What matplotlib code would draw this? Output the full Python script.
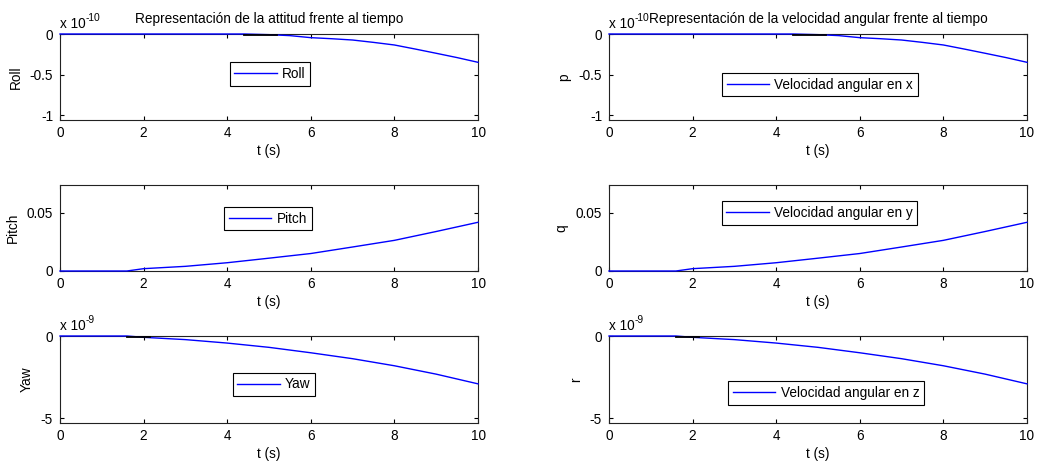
import matplotlib
matplotlib.use("Agg")
import matplotlib.pyplot as plt
from matplotlib.ticker import FuncFormatter

plt.rcParams['font.family'] = ['Liberation Sans', 'DejaVu Sans']
FS = 9.8
plt.rcParams['font.size'] = FS
plt.rcParams['axes.unicode_minus'] = False

# ---- data ----
t_roll = [0, 1, 2, 3, 4, 4.4, 5, 5.5, 6, 6.5, 7, 7.5, 8, 8.5, 9, 9.5, 10]
roll = [0, 0, 0, 0, 0, 0, -0.008, -0.02, -0.045, -0.058, -0.074, -0.103,
        -0.135, -0.185, -0.237, -0.29, -0.348]          # x 1e-10
t_pitch = [0, 1, 1.6, 2, 3, 4, 5, 6, 7, 8, 9, 10]
pitch = [0, 0, 0, 0.002, 0.004, 0.0071, 0.011, 0.015, 0.0206, 0.0263,
         0.0339, 0.0418]
t_yaw = [0, 1, 1.6, 2, 3, 4, 5, 6, 7, 8, 9, 10]
yaw = [0, 0, 0, -0.08, -0.22, -0.43, -0.69, -1.02, -1.38, -1.81, -2.32,
       -2.91]                                             # x 1e-9

# small black segments visible near zero
seg_roll_t = [4.4, 5.2]
seg_roll_v = [-0.008, -0.008]
seg_yaw_t = [1.6, 2.15]
seg_yaw_v = [-0.04, -0.04]

xticks = [0, 2, 4, 6, 8, 10]

W, H = 1039, 461
fig = plt.figure(figsize=(W / 100, H / 100), dpi=100)


def make_ax(left, right, top, bottom):
    ax = fig.add_axes([left / W, 1 - bottom / H, (right - left) / W, (bottom - top) / H])
    ax.tick_params(direction='in', top=True, right=True, length=3, width=0.8,
                   colors='black', labelsize=FS)
    ax.tick_params(axis='x', pad=4.5)
    ax.tick_params(axis='y', pad=5)
    for s in ax.spines.values():
        s.set_linewidth(0.8)
        s.set_color('#222222')
    ax.set_xlim(0, 10)
    ax.set_xticks(xticks)
    ax.set_xlabel('t (s)', labelpad=3)
    return ax


fmt = FuncFormatter(lambda v, p: ('%g' % v) if abs(v) > 1e-12 else '0')


def offset_label(ax, exp):
    t1 = ax.text(0, 1.035, 'x 10', transform=ax.transAxes, ha='left',
                 va='bottom', fontsize=FS)
    ax.annotate(exp, xy=(1, 0.95), xycoords=t1, ha='left', va='center',
                fontsize=FS * 0.75)


cols = [(60, 478), (609, 1027)]
rows = [(34, 120), (185, 271), (336, 422.5)]
ylabels = [['Roll', 'Pitch', 'Yaw'], ['p', 'q', 'r']]
leg = [['Roll', 'Pitch', 'Yaw'],
       ['Velocidad angular en x', 'Velocidad angular en y', 'Velocidad angular en z']]
leg_centers = [[(270, 74), (268, 218.5), (274, 384.5)],
               [(820, 84.5), (819.5, 213), (826, 393)]]
titles = ['Representación de la attitud frente al tiempo',
          'Representación de la velocidad angular frente al tiempo']

line_kw = dict(color='blue', lw=1.0, zorder=3, clip_on=False)

for c, (l, r) in enumerate(cols):
    # Row 1
    ax = make_ax(l, r, *rows[0])
    ax.plot(t_roll, roll, label=leg[c][0], **line_kw)
    ax.plot(seg_roll_t, seg_roll_v, color='black', lw=1.3, zorder=3.5)
    ax.set_ylim(-1.057, 0)
    ax.set_yticks([-1, -0.5, 0])
    ax.yaxis.set_major_formatter(fmt)
    ax.set_ylabel(ylabels[c][0], labelpad=5)
    offset_label(ax, '-10')
    ax.set_title(titles[c], fontsize=FS, pad=8)
    axes_row = [ax]
    # Row 2
    ax2 = make_ax(l, r, *rows[1])
    ax2.plot(t_pitch, pitch, label=leg[c][1], **line_kw)
    ax2.set_ylim(0, 0.0738)
    ax2.set_yticks([0, 0.05])
    ax2.yaxis.set_major_formatter(fmt)
    ax2.set_ylabel(ylabels[c][1], labelpad=5)
    axes_row.append(ax2)
    # Row 3
    ax3 = make_ax(l, r, *rows[2])
    ax3.plot(t_yaw, yaw, label=leg[c][2], **line_kw)
    ax3.plot(seg_yaw_t, seg_yaw_v, color='black', lw=1.3, zorder=3.5)
    ax3.set_ylim(-5.26, 0)
    ax3.set_yticks([-5, 0])
    ax3.yaxis.set_major_formatter(fmt)
    ax3.set_ylabel(ylabels[c][2], labelpad=5)
    offset_label(ax3, '-9')
    axes_row.append(ax3)

    for k, a in enumerate(axes_row):
        cx, cy = leg_centers[c][k]
        lg = a.legend(loc='center', bbox_to_anchor=(cx / W, 1 - cy / H),
                      bbox_transform=fig.transFigure, fancybox=False,
                      framealpha=1, edgecolor='black', fontsize=FS,
                      handlelength=3.1, handletextpad=0.4, borderpad=0.35,
                      borderaxespad=0)
        lg.get_frame().set_linewidth(0.8)
        for line in lg.get_lines():
            line.set_linewidth(1.0)

fig.savefig('out.png', dpi=100, facecolor='white')
